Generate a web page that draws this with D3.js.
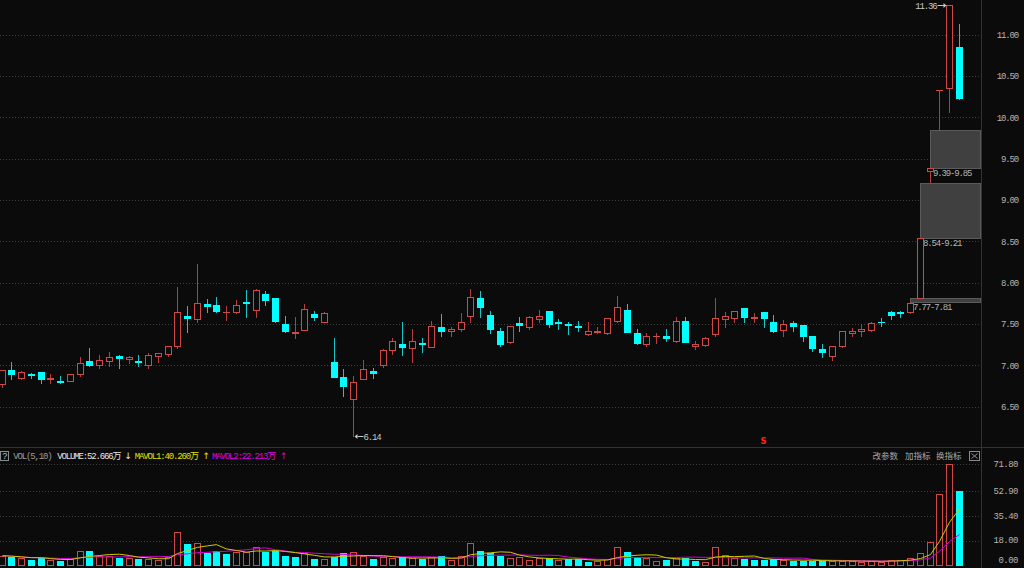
<!DOCTYPE html>
<html><head><meta charset="utf-8">
<script src="https://cdn.jsdelivr.net/npm/d3@7"></script>
<style>html,body{margin:0;padding:0;background:#0b0b0b;overflow:hidden}</style>
</head><body>
<svg id="c" width="1024" height="568"></svg>
<script>
// ---------- data ----------
const opens  = [6.77,6.95,6.85,6.89,6.92,6.83,6.81,6.81,6.89,7.05,7.01,7.05,7.11,7.08,7.05,7.01,7.11,7.14,7.23,7.60,
                7.56,7.74,7.73,7.64,7.64,7.77,7.67,7.86,7.81,7.50,7.39,7.43,7.62,7.52,7.04,6.86,6.59,6.83,6.93,7.00,
                7.19,7.26,7.21,7.27,7.22,7.46,7.41,7.44,7.60,7.81,7.61,7.42,7.28,7.51,7.47,7.56,7.66,7.52,7.50,7.48,
                7.38,7.40,7.39,7.54,7.67,7.39,7.26,7.35,7.36,7.29,7.54,7.23,7.25,7.38,7.56,7.57,7.69,7.57,7.64,7.52,
                7.43,7.51,7.49,7.35,7.20,7.11,7.23,7.39,7.41,7.43,7.53,7.65,7.64,7.64,7.81,9.35,10.33,10.35,10.85];
const highs  = [6.95,7.04,6.93,6.91,6.92,6.89,6.87,6.90,7.10,7.21,7.12,7.16,7.12,7.11,7.12,7.15,7.15,7.24,7.95,7.72,
                8.23,7.80,7.83,7.72,7.79,7.91,7.92,7.90,7.82,7.60,7.58,7.74,7.66,7.65,7.33,6.96,6.87,7.06,6.97,7.20,
                7.33,7.53,7.44,7.33,7.54,7.62,7.47,7.63,7.92,7.90,7.66,7.45,7.48,7.59,7.60,7.67,7.66,7.56,7.53,7.54,
                7.52,7.47,7.57,7.84,7.74,7.44,7.39,7.39,7.44,7.58,7.59,7.29,7.34,7.82,7.64,7.66,7.69,7.63,7.65,7.61,
                7.55,7.54,7.49,7.36,7.26,7.24,7.42,7.45,7.50,7.52,7.57,7.66,7.66,7.77,8.54,9.39,10.33,11.36,11.13];
const lows   = [6.74,6.84,6.84,6.85,6.79,6.79,6.79,6.81,6.87,6.99,6.97,6.99,6.97,7.03,6.99,6.97,7.04,7.11,7.21,7.40,
                7.53,7.65,7.65,7.55,7.63,7.58,7.58,7.73,7.53,7.40,7.33,7.43,7.55,7.52,6.86,6.63,6.14,6.83,6.85,6.98,
                7.14,7.12,7.04,7.16,7.22,7.35,7.35,7.41,7.53,7.58,7.39,7.23,7.27,7.41,7.44,7.52,7.47,7.44,7.38,7.42,
                7.37,7.39,7.38,7.53,7.40,7.26,7.23,7.27,7.29,7.28,7.28,7.20,7.23,7.36,7.47,7.52,7.52,7.52,7.47,7.40,
                7.36,7.41,7.29,7.17,7.10,7.06,7.22,7.35,7.36,7.42,7.48,7.56,7.59,7.63,7.81,9.21,9.85,10.06,10.22];
const closes = [6.95,6.90,6.92,6.88,6.83,6.85,6.80,6.90,7.03,7.00,7.06,7.10,7.09,7.10,7.04,7.12,7.15,7.23,7.65,7.57,
                7.76,7.72,7.66,7.65,7.73,7.75,7.91,7.79,7.54,7.41,7.40,7.68,7.59,7.63,6.86,6.75,6.80,6.96,6.91,7.18,
                7.30,7.22,7.30,7.26,7.48,7.41,7.44,7.52,7.83,7.70,7.44,7.26,7.48,7.49,7.58,7.60,7.50,7.51,7.49,7.47,
                7.41,7.42,7.57,7.70,7.40,7.27,7.35,7.36,7.33,7.54,7.28,7.26,7.33,7.57,7.60,7.66,7.59,7.58,7.57,7.41,
                7.50,7.48,7.35,7.21,7.16,7.23,7.41,7.42,7.44,7.51,7.52,7.61,7.63,7.76,8.54,9.39,10.33,11.36,10.23];
const volumes= [7.3,6.6,5.4,4.2,5.9,4.0,3.8,4.9,10.4,10.6,7.3,7.3,5.9,5.9,4.7,4.9,4.2,6.1,24.0,15.5,
                16.0,9.4,10.6,8.7,10.1,10.1,13.6,10.1,10.6,6.8,6.1,9.0,5.2,4.9,6.6,9.0,9.6,6.8,4.7,6.1,
                5.9,6.1,5.4,4.7,6.1,6.8,4.0,6.8,16.0,10.6,9.2,7.3,5.4,6.1,4.0,5.6,5.4,4.2,4.7,4.7,
                3.1,3.8,4.7,13.6,9.9,6.1,5.4,3.5,4.2,5.4,5.9,3.8,3.1,13.4,7.5,5.4,4.9,4.2,4.2,4.7,
                4.2,3.8,3.8,3.8,3.5,3.5,3.5,3.5,3.1,3.5,3.0,4.3,4.5,5.53,8.9,17.1,50.834,71.8,52.666];
const priceTicks = [6.5,7.0,7.5,8.0,8.5,9.0,9.5,10.0,10.5,11.0];
const volTicks   = [71.80,52.90,35.40,18.00,0.00];
const gapStart = [93, 94, 95];
const gapLow   = [7.77, 8.54, 9.39];
const gapHigh  = [7.81, 9.21, 9.85];
const signalIdx = [78];
const signalText = ["S"];
const maPeriods = [5, 10];
const toolLabels = ["改参数","加指标","换指标"];

// ---------- layout ----------
const W = 1024, H = 568, axisX = 981;
const BG = "#0b0b0b", UP = "#d04848", UPW = "#b43e3e", DN = "#00ffff", DNW = "#17c6c6";
const GRID = "#3e3e3e", TXT = "#b4b4b4";
const monoFont = "'Liberation Mono','Noto Sans CJK SC',monospace";
const svg = d3.select("#c");
svg.append("rect").attr("width", W).attr("height", H).attr("fill", BG);

const N = opens.length;
const x = d3.scaleBand().domain(d3.range(N)).range([-2.885, 964.385]).paddingInner(0.28).paddingOuter(0.14);
const cx = i => Math.floor(x(i) + x.bandwidth() / 2) + 0.5;
const y = d3.scaleLinear().domain([6.5, 11]).range([406.7, 34.7]);
const yv = d3.scaleLinear().domain([0, 71.8]).range([566, 464.3]);
const R = v => Math.round(v);

// grid
const gGrid = svg.append("g");
priceTicks.forEach(t => gGrid.append("line").attr("x1", 0).attr("x2", axisX - 1)
  .attr("y1", R(y(t)) + 0.5).attr("y2", R(y(t)) + 0.5)
  .attr("stroke", GRID).attr("stroke-dasharray", "1,2"));
volTicks.filter(t => t > 0).forEach(t => gGrid.append("line").attr("x1", 0).attr("x2", axisX - 1)
  .attr("y1", R(yv(t)) + 0.5).attr("y2", R(yv(t)) + 0.5)
  .attr("stroke", GRID).attr("stroke-dasharray", "1,2"));

// frame lines
svg.append("line").attr("x1", 0).attr("x2", W).attr("y1", 447.5).attr("y2", 447.5).attr("stroke", "#333");
svg.append("line").attr("x1", axisX + 0.5).attr("x2", axisX + 0.5).attr("y1", 0).attr("y2", H).attr("stroke", "#333");

// price axis labels
const yAxis = d3.axisRight(y).tickValues(priceTicks).tickFormat(d3.format(".2f")).tickSize(0);
const gAx = svg.append("g").attr("transform", `translate(1018,0)`).call(yAxis);
gAx.select(".domain").remove();
gAx.selectAll("text").attr("x", 0).attr("text-anchor", "end").attr("fill", TXT)
  .style("font-family", monoFont).style("font-size", "9px").style("letter-spacing", "-1.15px");

// volume axis labels
const vAxis = d3.axisRight(yv).tickValues(volTicks).tickFormat(d3.format(".2f")).tickSize(0);
const gVx = svg.append("g").attr("transform", `translate(1018,0)`).call(vAxis);
gVx.select(".domain").remove();
gVx.selectAll(".tick").attr("transform", d => `translate(0,${Math.min(yv(d), 560)})`);
gVx.selectAll("text").attr("x", 0).attr("text-anchor", "end").attr("fill", TXT)
  .style("font-family", monoFont).style("font-size", "9px").style("letter-spacing", "-0.5px");

// gap boxes
gapStart.forEach((s, k) => {
  const x0 = cx(s) - 0.5, yTop = R(y(gapHigh[k])), yBot = R(y(gapLow[k]));
  svg.append("rect").attr("x", x0 + 0.5).attr("y", yTop + 0.5).attr("width", axisX - x0 - 1)
    .attr("height", Math.max(1, yBot - yTop)).attr("fill", "#404040").attr("stroke", "#5a5a5a");
  svg.append("text").attr("x", x0 + 3).attr("y", yBot + 5).attr("dy", "0.35em")
    .attr("fill", TXT).style("font-family", monoFont).style("font-size", "9px").style("letter-spacing", "-1.15px")
    .text(`${gapLow[k].toFixed(2)}-${gapHigh[k].toFixed(2)}`);
});

// candles
const gC = svg.append("g");
for (let i = 0; i < N; i++) {
  const c = cx(i), up = closes[i] >= opens[i];
  const yH = R(y(highs[i])), yL = R(y(lows[i])), yO = R(y(opens[i])), yC = R(y(closes[i]));
  if (up) {
    const top = yC, bot = yO;
    if (bot - top <= 1) {
      gC.append("line").attr("x1", c).attr("x2", c).attr("y1", yH).attr("y2", yL + 1).attr("stroke", UPW);
      gC.append("rect").attr("x", c - 3.5).attr("y", top).attr("width", 7).attr("height", Math.max(1, bot - top + 1)).attr("fill", UP);
    } else {
      if (yH < top) gC.append("line").attr("x1", c).attr("x2", c).attr("y1", yH).attr("y2", top).attr("stroke", UPW);
      if (yL > bot) gC.append("line").attr("x1", c).attr("x2", c).attr("y1", bot + 1).attr("y2", yL + 1).attr("stroke", UPW);
      gC.append("rect").attr("x", c - 3).attr("y", top + 0.5).attr("width", 6).attr("height", bot - top)
        .attr("fill", BG).attr("stroke", UP);
    }
  } else {
    gC.append("line").attr("x1", c).attr("x2", c).attr("y1", yH).attr("y2", yL + 1).attr("stroke", DNW);
    gC.append("rect").attr("x", c - 3.5).attr("y", yO).attr("width", 7).attr("height", Math.max(1, yC - yO + 1)).attr("fill", DN);
  }
}

// high / low labels
const lblStyle = s => s.attr("fill", "#c8c8c8").style("font-family", monoFont).style("font-size", "9px").style("letter-spacing", "-1.15px");
const iMax = d3.maxIndex(highs), iMin = d3.minIndex(lows);
{
  const c = cx(iMax), yy = R(y(highs[iMax])) + 0.5;
  svg.append("line").attr("x1", c - 12).attr("x2", c - 5).attr("y1", yy).attr("y2", yy).attr("stroke", "#c8c8c8");
  svg.append("path").attr("d", `M${c - 3},${yy} L${c - 6},${yy - 2.5} L${c - 6},${yy + 2.5} Z`).attr("fill", "#c8c8c8");
  lblStyle(svg.append("text").attr("x", c - 13).attr("y", yy).attr("dy", "0.35em").attr("text-anchor", "end")).text(highs[iMax].toFixed(2));
}
{
  const c = cx(iMin), yy = R(y(lows[iMin])) + 0.5;
  svg.append("path").attr("d", `M${c + 1},${yy} L${c + 4},${yy - 2.5} L${c + 4},${yy + 2.5} Z`).attr("fill", "#c8c8c8");
  svg.append("line").attr("x1", c + 4).attr("x2", c + 10).attr("y1", yy).attr("y2", yy).attr("stroke", "#c8c8c8");
  lblStyle(svg.append("text").attr("x", c + 10).attr("y", yy).attr("dy", "0.35em")).text(lows[iMin].toFixed(2));
}

// signal markers
signalIdx.forEach((s, k) => svg.append("text").attr("x", cx(s) - 1).attr("y", 441.5).attr("dy", "0.35em")
  .attr("text-anchor", "middle").attr("fill", "#ff2020").style("font-family", "'DejaVu Sans',sans-serif")
  .style("font-size", "8.5px").style("font-weight", "bold").text(signalText[k]));

// volume bars
const gV = svg.append("g");
for (let i = 0; i < N; i++) {
  const c = cx(i), up = i === 0 ? true : closes[i] >= closes[i - 1];
  const top = R(yv(volumes[i]));
  if (up) gV.append("rect").attr("x", c - 3).attr("y", top + 0.5).attr("width", 6).attr("height", Math.max(1, 565 - top))
    .attr("fill", BG).attr("stroke", UP);
  else gV.append("rect").attr("x", c - 3.5).attr("y", top).attr("width", 7).attr("height", 566 - top).attr("fill", DN);
}

// moving averages
const ma = p => volumes.map((v, i) => d3.mean(volumes.slice(Math.max(0, i - p + 1), i + 1)));
const ma1 = ma(maPeriods[0]), ma2 = ma(maPeriods[1]);
const line = d3.line().x((d, i) => cx(i)).y(d => yv(d));
svg.append("path").datum(ma2).attr("d", line).attr("fill", "none").attr("stroke", "#d400d4").attr("stroke-width", 1);
svg.append("path").datum(ma1).attr("d", line).attr("fill", "none").attr("stroke", "#cccc00").attr("stroke-width", 1);

// volume header
const hy = 456;
const hdr = (xx, txt, col, fam, fs) => svg.append("text").attr("x", xx).attr("y", hy).attr("dy", "0.35em")
  .attr("fill", col).style("font-family", fam || monoFont).style("font-size", (fs || 9) + "px")
  .style("letter-spacing", fam ? "0px" : "-1.15px").text(txt);
svg.append("rect").attr("x", 0.5).attr("y", 451.5).attr("width", 8).attr("height", 9).attr("fill", "none").attr("stroke", "#8a8a8a");
hdr(2.2, "?", "#bdbdbd");
hdr(13.3, `VOL(${maPeriods.join(",")})`, "#9c9c9c");
const last = N - 1, fmt3 = d3.format(".3f");
const arr = (a, b) => a >= b ? "↑" : "↓";
hdr(57.3, `VOLUME:${fmt3(volumes[last])}万`, "#e6e6e6");
hdr(124.5, arr(volumes[last], volumes[last - 1]), "#e6e6e6", "'DejaVu Sans',sans-serif");
hdr(134.7, `MAVOL1:${fmt3(ma1[last])}万`, "#e4e400");
hdr(202.5, arr(ma1[last], ma1[last - 1]), "#e4e400", "'DejaVu Sans',sans-serif");
hdr(212, `MAVOL2:${fmt3(ma2[last])}万`, "#e000e0");
hdr(280, arr(ma2[last], ma2[last - 1]), "#e000e0", "'DejaVu Sans',sans-serif");
[872.5, 905, 936].forEach((xx, k) => hdr(xx, toolLabels[k], "#a8a8a8", "'Noto Sans CJK SC',sans-serif", 8.5));
svg.append("rect").attr("x", 969.5).attr("y", 451.5).attr("width", 10).attr("height", 9).attr("fill", "none").attr("stroke", "#8a8a8a");
svg.append("path").attr("d", "M971.5,453.5 L977.5,458.5 M977.5,453.5 L971.5,458.5").attr("stroke", "#8a8a8a");
</script>
</body></html>
